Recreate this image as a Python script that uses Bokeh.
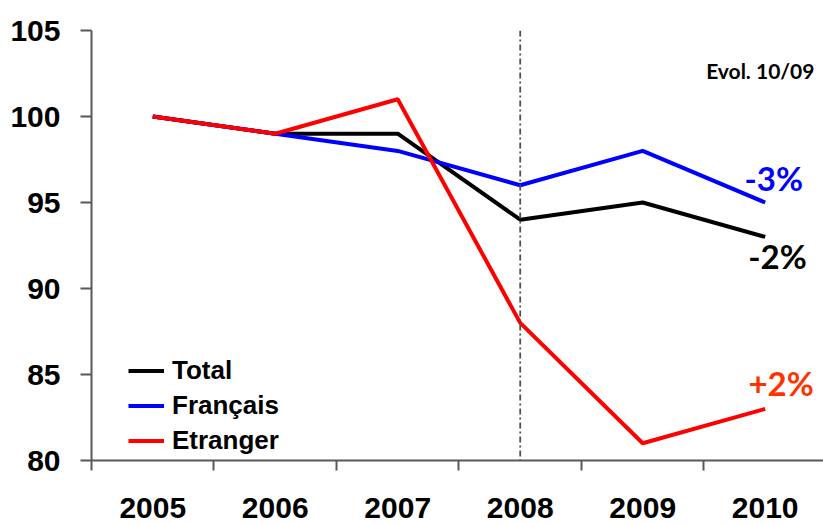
from bokeh.plotting import figure
from bokeh.models import FixedTicker, Span, Legend, LegendItem, Range1d
from bokeh.embed import file_html
from bokeh.resources import INLINE
from bokeh.core.properties import value

# ---- data ----
years = ["2005", "2006", "2007", "2008", "2009", "2010"]
total = [100, 99, 99, 94, 95, 93]
francais = [100, 99, 98, 96, 98, 95]
etranger = [100, 99, 101, 88, 81, 83]
y_ticks = [80, 85, 90, 95, 100, 105]
evol_labels = ["-3%", "-2%", "+2%"]
evol_x = [5.07, 5.10, 5.13]
evol_y = [96.4, 91.9, 84.5]
evol_colors = ["#0000FF", "#000000", "#FF3300"]
evol_title = "Evol. 10/09"
evol_title_x = [4.96]
evol_title_y = [102.7]
marker_year_index = 3

x = list(range(len(years)))
boundaries = [i - 0.5 for i in range(len(years))]

p = figure(width=823, height=524,
           x_range=Range1d(-0.5, 5.476), y_range=Range1d(80, 105),
           output_backend="svg", toolbar_location=None,
           min_border_left=91, min_border_right=0,
           min_border_top=30, min_border_bottom=64)
p.outline_line_color = None
p.grid.visible = False
p.background_fill_color = "white"
p.border_fill_color = "white"

FONT = "Liberation Sans"
AXIS_COLOR = "#595959"

# x axis
xa = p.xaxis[0]
xa.ticker = FixedTicker(ticks=x, minor_ticks=boundaries)
xa.major_label_overrides = {i: y for i, y in zip(x, years)}
xa.major_tick_out = 0
xa.major_tick_in = 0
xa.minor_tick_out = 10
xa.minor_tick_in = 0
xa.minor_tick_line_color = AXIS_COLOR
xa.minor_tick_line_width = 2
xa.axis_line_color = AXIS_COLOR
xa.axis_line_width = 2
xa.major_label_standoff = 27
xa.major_label_text_font = FONT
xa.major_label_text_font_size = "30px"
xa.major_label_text_font_style = "bold"
xa.major_label_text_color = "#000000"

# y axis
ya = p.yaxis[0]
ya.ticker = FixedTicker(ticks=y_ticks)
ya.major_tick_out = 11
ya.major_tick_in = 0
ya.minor_tick_out = 0
ya.minor_tick_in = 0
ya.major_tick_line_color = AXIS_COLOR
ya.major_tick_line_width = 2
ya.axis_line_color = AXIS_COLOR
ya.axis_line_width = 2
ya.major_label_standoff = 20
ya.major_label_text_font = FONT
ya.major_label_text_font_size = "30px"
ya.major_label_text_font_style = "bold"
ya.major_label_text_color = "#000000"

# vertical marker line
p.add_layout(Span(location=x[marker_year_index], dimension="height",
                  line_color="#505050", line_width=1.8, line_dash="6 3 2 3"))

r_tot = p.line(x, total, line_color="#000000", line_width=4)
r_fr = p.line(x, francais, line_color="#0000FF", line_width=4)
r_et = p.line(x, etranger, line_color="#FF0000", line_width=4)

p.text(x=evol_x, y=evol_y, text=evol_labels, text_color=evol_colors,
       text_font=value("Lato"), text_font_style="bold", text_font_size="33px",
       text_align="center", text_baseline="middle")
p.text(x=evol_title_x, y=evol_title_y, text=[evol_title], text_color="#000000",
       text_font=value("Lato"), text_font_style="bold", text_font_size="21px",
       text_align="center", text_baseline="middle")

legend = Legend(items=[LegendItem(label="Total", renderers=[r_tot]),
                       LegendItem(label="Français", renderers=[r_fr]),
                       LegendItem(label="Etranger", renderers=[r_et])],
                location=(37, 2), label_text_font=FONT,
                label_text_font_size="26px", label_text_font_style="bold",
                label_text_color="#000000",
                glyph_width=36, glyph_height=35, label_height=35,
                spacing=0, padding=0, margin=0, label_standoff=8,
                background_fill_alpha=0, border_line_color=None)
p.add_layout(legend)

open("out.html", "w").write(file_html(p, INLINE))
